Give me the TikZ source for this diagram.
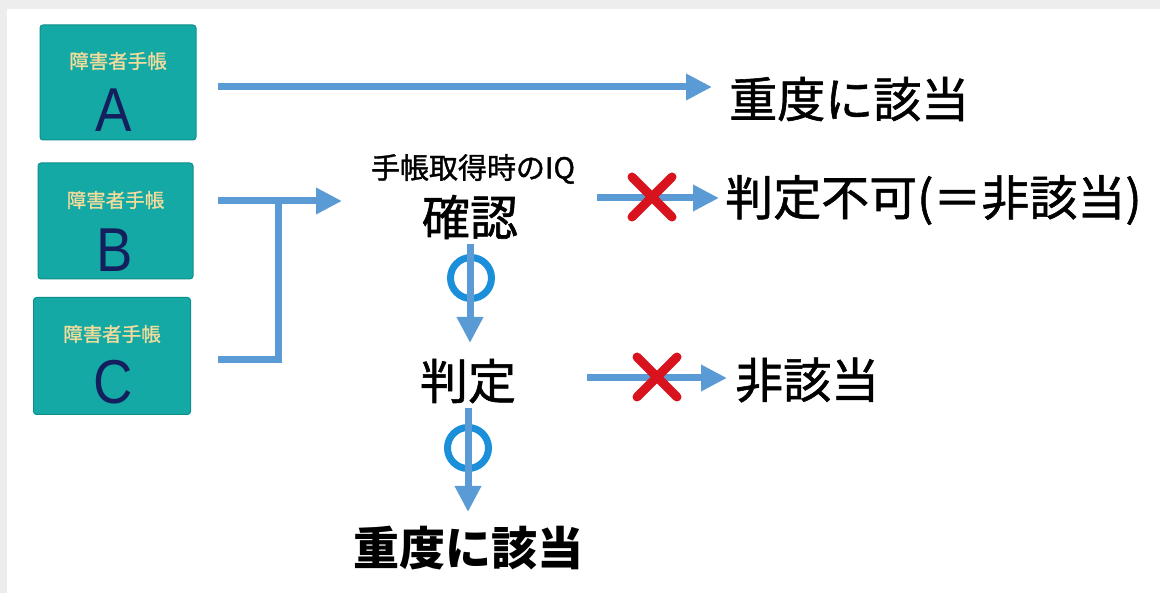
\documentclass[tikz,border=0pt]{standalone}
\usepackage{fontspec}
\newfontfamily\jp{Noto Sans CJK JP}
\newfontfamily\jpm{Noto Sans CJK JP}[FakeBold=1.2]
\newfontfamily\latinfont{Liberation Sans}
\usetikzlibrary{arrows.meta}
\definecolor{frame}{HTML}{EDEDED}
\definecolor{teal}{HTML}{14A9A5}
\definecolor{tealdark}{HTML}{0F8F8B}
\definecolor{cream}{HTML}{F2DC9C}
\definecolor{navy}{HTML}{14205E}
\definecolor{flow}{HTML}{5B9BD5}
\definecolor{okblue}{HTML}{1C8FDA}
\definecolor{ngred}{HTML}{D8131E}
\tikzset{
  techo/.style={draw=tealdark, line width=1pt, fill=teal, rounded corners=3pt, inner sep=0pt},
  techolabel/.style={text=cream, font=\jpm\fontsize{19.5}{19.5}\selectfont, inner sep=0pt},
  grade/.style={text=navy, font=\latinfont\fontsize{62}{62}\selectfont, inner sep=0pt, xscale=0.88},
  flowarrow/.style={draw=flow, line width=7pt, -{Triangle[length=26pt, width=25pt]}},
  flowline/.style={draw=flow, line width=7pt},
  bigtext/.style={font=\jpm\fontsize{48}{48}\selectfont, inner sep=0pt, text=black},
  smalltext/.style={font=\jpm\fontsize{29}{29}\selectfont, inner sep=0pt, text=black},
  okring/.style={draw=okblue, line width=7pt, circle, minimum size=41pt, inner sep=0pt},
  ngcross/.style={draw=ngred, line width=9pt, line cap=round},
}
\begin{document}
\begin{tikzpicture}[x=1pt,y=-1pt]
\fill[frame] (0,0) rectangle (1160,593);
\fill[white] (7,9) rectangle (1160,593);
\useasboundingbox (0,0) rectangle (1160,593);

% handbook boxes
\node[techo, minimum width=156pt, minimum height=115pt] (boxA) at (118,82.5) {};
\node[techolabel] (labA) at (118,61) {障害者手帳};
\node[grade] (gA) at (114,110) {A};
\node[techo, minimum width=155pt, minimum height=116pt] (boxB) at (115.5,221) {};
\node[techolabel] (labB) at (115.5,200) {障害者手帳};
\node[grade] (gB) at (115,250) {B};
\node[techo, minimum width=157pt, minimum height=117pt] (boxC) at (112,356) {};
\node[techolabel] (labC) at (112,334) {障害者手帳};
\node[grade] (gC) at (113,382) {C};

% texts
\node[bigtext, anchor=west] (topres) at (729,99) {重度に該当};
\node[smalltext] (iq) at (473,169) {手帳取得時のIQ};
\node[bigtext] (kakunin) at (470,217) {確認};
\node[bigtext, anchor=west] (fuka) at (725,200) {判定不可(＝非該当)};
\node[bigtext] (hantei) at (468,381) {判定};
\node[bigtext, anchor=west] (higai) at (735,380) {非該当};
\node[bigtext, font=\jp\bfseries\fontsize{46}{46}\selectfont] (bottomres) at (468,548) {重度に該当};

% coordinates
\coordinate (aS) at (218,87);
\coordinate (aE) at (712,87);
\coordinate (bS) at (218,201);
\coordinate (bE) at (342,201);
\coordinate (cS) at (218,360);
\coordinate (join) at (278,360);
\coordinate (joinTop) at (278,201);
\coordinate (k1) at (597,198);
\coordinate (k2) at (719,198);
\coordinate (h1) at (587,378);
\coordinate (h2) at (727,378);
\coordinate (v1s) at (470,244);
\coordinate (v1e) at (470,343);
\coordinate (v2s) at (468,408);
\coordinate (v2e) at (468,512);

% horizontal arrows
\draw[flowarrow] (aS) -- (aE);
\draw[flowarrow] (bS) -- (bE);
\draw[flowline] (cS) -- (join) -- (joinTop);

% OK rings and vertical arrows
\node[okring] (ok1) at (471,278) {};
\node[okring] (ok2) at (468,448) {};
\draw[flowarrow] (v1s) -- (v1e);
\draw[flowarrow] (v2s) -- (v2e);

% NG arrows
\draw[flowarrow] (k1) -- (k2);
\draw[flowarrow] (h1) -- (h2);
\coordinate (x1) at (652,197);
\coordinate (x2) at (657,377);
\draw[ngcross] ([shift={(-20,-20)}]x1) -- ([shift={(20,20)}]x1);
\draw[ngcross] ([shift={(-20,20)}]x1) -- ([shift={(20,-20)}]x1);
\draw[ngcross] ([shift={(-20,-20)}]x2) -- ([shift={(20,20)}]x2);
\draw[ngcross] ([shift={(-20,20)}]x2) -- ([shift={(20,-20)}]x2);
\end{tikzpicture}
\end{document}
